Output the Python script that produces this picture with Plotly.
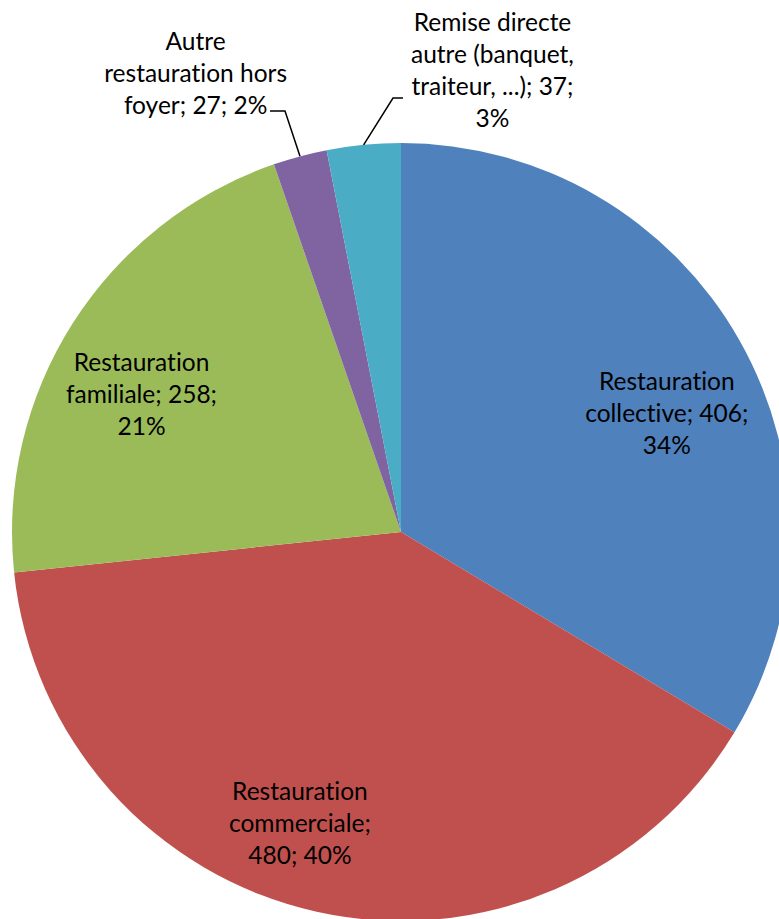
import math
import plotly.graph_objects as go

# Slices, clockwise from 12 o'clock
categories = [
    "Restauration collective",
    "Restauration commerciale",
    "Restauration familiale",
    "Autre restauration hors foyer",
    "Remise directe autre (banquet, traiteur, ...)",
]
values = [406, 480, 258, 27, 37]
colors = ["#4F81BD", "#C0504D", "#9BBB59", "#8064A2", "#4BACC6"]

# Wrapped label layouts ({v} = value, {p} = percent)
label_formats = [
    "Restauration<br>collective; {v};<br>{p}%",
    "Restauration<br>commerciale;<br>{v}; {p}%",
    "Restauration<br>familiale; {v};<br>{p}%",
    "Autre<br>restauration hors<br>foyer; {v}; {p}%",
    "Remise directe<br>autre (banquet,<br>traiteur, ...); {v};<br>{p}%",
]

# Figure geometry (pixels); the pie runs slightly past the visible window
W, H = 802, 924
CX, CY, R = 401, 532, 389

# Label centres in pixels
label_pos = [(667, 412), (300, 822), (141, 393), (195, 72), (493, 69)]
# Leader-line elbows for the outside labels: slice index -> [(x, y), ...] from elbow to text
leaders = {3: [(285, 111), (270, 111)], 4: [(393, 98), (403, 98)]}

FONT = "Lato"
FONT_SIZE = 24.5

def px(x):
    return x / W

def py(y):
    return 1 - y / H

total = sum(values)
pcts = [round(v * 100 / total) for v in values]

fig = go.Figure(
    go.Pie(
        labels=categories,
        values=values,
        marker=dict(colors=colors, line=dict(width=0)),
        sort=False,
        direction="clockwise",
        rotation=0,
        textinfo="none",
        hoverinfo="label+value+percent",
        showlegend=False,
        domain=dict(x=[px(CX - R), px(CX + R)], y=[py(CY + R), py(CY - R)]),
    )
)

annotations = []
for i, fmt in enumerate(label_formats):
    x, y = label_pos[i]
    annotations.append(
        dict(
            x=px(x), y=py(y), xref="paper", yref="paper",
            text=fmt.format(v=values[i], p=pcts[i]),
            showarrow=False, xanchor="center", yanchor="middle", align="center",
            font=dict(family=FONT, size=FONT_SIZE, color="#000000"),
        )
    )

# Leader lines start at the arc midpoint of each small slice
shapes = []
cum = 0
for i, v in enumerate(values):
    mid = (cum + v / 2) / total * 2 * math.pi
    cum += v
    if i not in leaders:
        continue
    pts = [(CX + R * math.sin(mid), CY - R * math.cos(mid))] + leaders[i]
    path = "M " + " L ".join(f"{px(x)},{py(y)}" for x, y in pts)
    shapes.append(dict(type="path", xref="paper", yref="paper", path=path,
                       line=dict(color="#000000", width=1.5)))

fig.update_layout(
    width=W, height=H,
    margin=dict(l=0, r=0, t=0, b=0),
    paper_bgcolor="white",
    plot_bgcolor="white",
    annotations=annotations,
    shapes=shapes,
)

fig.write_html(
    "out.html",
    post_script=(
        "document.body.style.overflow='hidden';document.body.style.margin='0';"
        "document.querySelectorAll('text').forEach(function(t){"
        "t.style.fontVariantLigatures='none';});"
    ),
)
